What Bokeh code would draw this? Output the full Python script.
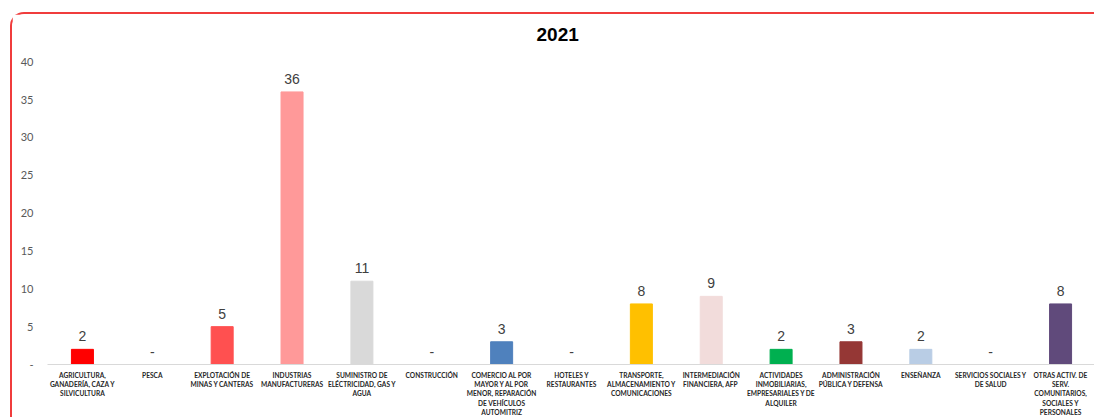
from bokeh.plotting import figure
from bokeh.models import ColumnDataSource, FixedTicker
from bokeh.core.properties import value
from bokeh.embed import file_html
from bokeh.resources import INLINE

categories = [
    "AGRICULTURA,\nGANADERÍA, CAZA Y\nSILVICULTURA",
    "PESCA",
    "EXPLOTACIÓN DE\nMINAS Y CANTERAS",
    "INDUSTRIAS\nMANUFACTURERAS",
    "SUMINISTRO DE\nELÉCTRICIDAD, GAS Y\nAGUA",
    "CONSTRUCCIÓN",
    "COMERCIO AL POR\nMAYOR Y AL POR\nMENOR, REPARACIÓN\nDE VEHÍCULOS\nAUTOMITRIZ",
    "HOTELES Y\nRESTAURANTES",
    "TRANSPORTE,\nALMACENAMIENTO Y\nCOMUNICACIONES",
    "INTERMEDIACIÓN\nFINANCIERA,  AFP",
    "ACTIVIDADES\nINMOBILIARIAS,\nEMPRESARIALES Y DE\nALQUILER",
    "ADMINISTRACIÓN\nPÚBLICA Y DEFENSA",
    "ENSEÑANZA",
    "SERVICIOS SOCIALES Y\nDE SALUD",
    "OTRAS ACTIV. DE\nSERV.\nCOMUNITARIOS,\nSOCIALES Y\nPERSONALES",
]
values = [2, 0, 5, 36, 11, 0, 3, 0, 8, 9, 2, 3, 2, 0, 8]
colors = [
    "#FF0000", "#FF5050", "#FF5050", "#FF9999", "#D9D9D9",
    "#D9D9D9", "#4F81BD", "#4F81BD", "#FFC000", "#F2DCDB",
    "#00B050", "#953735", "#B9CDE5", "#B9CDE5", "#604A7B",
]
y_ticks = [0, 5, 10, 15, 20, 25, 30, 35, 40]

labels = [str(v) if v else "-" for v in values]
src = ColumnDataSource(dict(cat=categories, val=values, col=colors, lab=labels))

p = figure(
    x_range=categories, y_range=(0, 42),
    width=1084, height=405,
    output_backend="svg", toolbar_location=None,
    min_border_left=35, min_border_right=1,
    min_border_top=32, min_border_bottom=51,
)
p.margin = (12, 0, -2, 10)
p.styles = {
    "border-top": "2px solid #F03C3C",
    "border-left": "2px solid #F03C3C",
    "border-top-left-radius": "14px",
}

p.vbar(x="cat", top="val", width=0.315, color="col", source=src)
p.text(x="cat", y="val", text="lab", source=src,
       text_align="center", text_baseline="alphabetic", y_offset=-13,
       text_font=value("Liberation Sans"), text_font_size="14px",
       text_color="#404040")

p.title.text = "2021"
p.title.align = "left"
p.title.offset = 489
p.title.standoff = 12
p.title.text_font = "Liberation Sans"
p.title.text_font_size = "19px"
p.title.text_font_style = "bold"
p.title.text_color = "#000000"

p.xgrid.grid_line_color = None
p.ygrid.grid_line_color = None
p.outline_line_color = None

xa = p.xaxis[0]
xa.axis_line_color = "#D9D9D9"
xa.major_tick_line_color = None
xa.minor_tick_line_color = None
xa.major_label_text_font = "Lato"
xa.major_label_text_font_style = "bold"
xa.major_label_text_font_size = "6.6px"
xa.major_label_text_line_height = 1.18
xa.major_label_text_color = "#262626"
xa.major_label_standoff = 0
xa.major_label_orientation = "horizontal"

ya = p.yaxis[0]
ya.ticker = FixedTicker(ticks=y_ticks)
ya.major_label_overrides = {0: "-"}
ya.axis_line_color = None
ya.major_tick_line_color = None
ya.minor_tick_line_color = None
ya.major_label_text_font = "Lato"
ya.major_label_text_font_size = "11px"
ya.major_label_text_color = "#595959"
ya.major_label_standoff = 8

open("out.html", "w").write(file_html(p, INLINE))
